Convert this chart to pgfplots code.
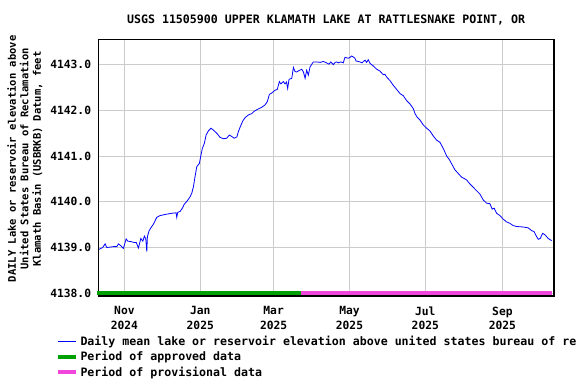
\documentclass[border=0pt]{standalone}
\usepackage{pgfplots}
\pgfplotsset{compat=1.18}
\usepackage{fontspec}
\setmainfont{DejaVu Sans Mono}
\definecolor{appr}{RGB}{0,160,0}
\definecolor{prov}{RGB}{240,70,220}
\definecolor{gridc}{RGB}{204,204,204}
\begin{document}
\begin{tikzpicture}
\path[use as bounding box] (0,0) rectangle (576bp,384bp);
\begin{axis}[
  at={(98.3bp,88bp)}, anchor=south west,
  scale only axis, width=455.7bp, height=256.7bp,
  xmin=-21, xmax=345.5, ymin=4137.94, ymax=4143.555,
  clip=false,
  axis line style={black, line width=1.2bp},
  grid=major, major grid style={gridc, line width=1bp},
  major tick length=0pt,
  xtick={0,61,120,181,242,304},
  xticklabels={{Nov\\2024},{Jan\\2025},{Mar\\2025},{May\\2025},{Jul\\2025},{Sep\\2025}},
  xticklabel style={align=center, font=\fontsize{11.3bp}{14.5bp}\selectfont\bfseries, inner sep=0pt, yshift=-10.5bp},
  ytick={4138,4139,4140,4141,4142,4143},
  yticklabels={4138.0,4139.0,4140.0,4141.0,4142.0,4143.0},
  yticklabel style={font=\fontsize{11.3bp}{13bp}\selectfont\bfseries, inner sep=0pt, xshift=-7bp},
  title={USGS 11505900 UPPER KLAMATH LAKE AT RATTLESNAKE POINT, OR},
  title style={at={(axis description cs:0.5,1)}, anchor=center, yshift=13bp, font=\fontsize{11.6bp}{13bp}\selectfont\bfseries},
  ylabel={DAILY Lake or reservoir elevation above\\United States Bureau of Reclamation\\Klamath Basin (USBRKB) Datum, feet},
  ylabel style={at={(axis description cs:-0.161,0.534)}, anchor=center, align=center, font=\fontsize{10.5bp}{12.5bp}\selectfont\bfseries},
  legend style={at={(axis description cs:-0.0928,-0.146)}, anchor=north west, draw=none, fill=none, inner sep=0pt, font=\fontsize{11.6bp}{13bp}\selectfont\bfseries, row sep=0bp, nodes={inner sep=2.3bp}},
  legend cell align=left,
  legend image code/.code={\draw[#1] (0bp,0bp) -- (18bp,0bp);},
]
\addplot[blue, line width=0.8bp] coordinates {
(-20.3,4138.96) (-17.5,4139.00) (-15.5,4139.08) (-14.2,4139.00) (-11.5,4139.01) (-8.8,4139.02)
(-6.1,4139.02) (-4.8,4139.08) (-2.9,4139.04) (-0.8,4138.98) (1.4,4139.19) (2.7,4139.14)
(5.1,4139.13) (8.0,4139.11) (9.5,4139.11) (11.3,4138.99) (13.2,4139.20) (14.8,4139.14)
(16.1,4139.25) (17.2,4139.19) (18.0,4138.91) (18.5,4139.24) (19.9,4139.37) (21.5,4139.44)
(23.3,4139.51) (26.0,4139.66) (28.7,4139.70) (34.1,4139.73) (38.1,4139.75) (41.6,4139.76)
(42.1,4139.66) (42.9,4139.77) (44.8,4139.79) (46.6,4139.86) (48.2,4139.95) (50.2,4140.01)
(52.8,4140.11) (54.2,4140.19) (55.5,4140.33) (56.8,4140.55) (58.2,4140.77) (60.3,4140.84)
(61.4,4141.00) (62.7,4141.17) (64.3,4141.28) (65.7,4141.46) (67.5,4141.55) (69.7,4141.61)
(71.5,4141.57) (74.3,4141.50) (76.9,4141.41) (79.6,4141.38) (82.2,4141.39) (84.4,4141.46)
(86.3,4141.43) (88.4,4141.39) (90.4,4141.42) (91.6,4141.53) (93.0,4141.63) (95.2,4141.77)
(97.0,4141.84) (99.7,4141.90) (102.4,4141.93) (104.3,4141.98) (106.9,4142.02) (110.5,4142.07)
(113.1,4142.12) (114.9,4142.19) (116.6,4142.35) (118.5,4142.38) (121.1,4142.44) (123.0,4142.46)
(124.6,4142.63) (125.8,4142.58) (127.8,4142.63) (129.2,4142.58) (130.4,4142.62) (131.3,4142.48)
(132.4,4142.68) (134.6,4142.70) (135.9,4142.94) (137.2,4142.85) (138.6,4142.84) (140.4,4142.87)
(142.6,4142.90) (144.0,4142.84) (145.3,4142.70) (146.6,4142.88) (147.9,4142.77) (149.3,4142.95)
(151.9,4143.06) (154.7,4143.06) (157.4,4143.05) (160.0,4143.07) (162.6,4143.04) (164.5,4143.01)
(166.0,4143.06) (168.0,4143.00) (169.5,4143.05) (170.7,4143.06) (172.0,4143.04) (174.0,4143.06)
(176.0,4143.04) (177.4,4143.16) (180.0,4143.14) (181.5,4143.16) (182.8,4143.19) (184.0,4143.17)
(185.4,4143.14) (186.3,4143.08) (188.0,4143.07) (189.5,4143.06) (191.0,4143.04) (193.5,4143.10)
(194.8,4143.05) (196.1,4143.11) (197.5,4143.03) (200.2,4142.97) (202.9,4142.90) (205.5,4142.86)
(208.2,4142.78) (209.5,4142.79) (210.9,4142.73) (213.6,4142.65) (216.2,4142.55) (218.9,4142.46)
(221.6,4142.37) (224.3,4142.32) (227.1,4142.21) (229.7,4142.14) (232.3,4142.04) (233.7,4141.93)
(235.5,4141.85) (237.7,4141.79) (240.4,4141.68) (243.1,4141.61) (245.7,4141.55) (248.4,4141.44)
(251.1,4141.35) (253.8,4141.30) (256.4,4141.17) (259.2,4141.00) (261.2,4140.93) (263.2,4140.83)
(265.8,4140.70) (268.5,4140.62) (271.2,4140.54) (273.9,4140.50) (275.2,4140.48) (277.9,4140.39)
(280.5,4140.32) (283.3,4140.24) (285.9,4140.17) (288.6,4140.04) (291.3,4139.97) (293.9,4139.96)
(295.8,4139.84) (297.4,4139.86) (299.3,4139.75) (302.0,4139.70) (304.7,4139.62) (307.4,4139.56)
(310.0,4139.53) (312.7,4139.48) (315.4,4139.46) (320.7,4139.45) (324.8,4139.43) (327.5,4139.37)
(329.4,4139.35) (331.5,4139.24) (332.8,4139.18) (334.5,4139.20) (336.3,4139.31) (338.2,4139.28)
(340.8,4139.20) (343.6,4139.15)
};
\addlegendentry{Daily mean lake or reservoir elevation above united states bureau of reclamation klamath basin (usbrkb) datum, feet}
\addplot[appr, line width=4bp] coordinates {(-21.8,4138.0) (142,4138.0)};
\addlegendentry{Period of approved data}
\addplot[prov, line width=4bp] coordinates {(142,4138.0) (344,4138.0)};
\addlegendentry{Period of provisional data}
\end{axis}
\end{tikzpicture}
\end{document}
